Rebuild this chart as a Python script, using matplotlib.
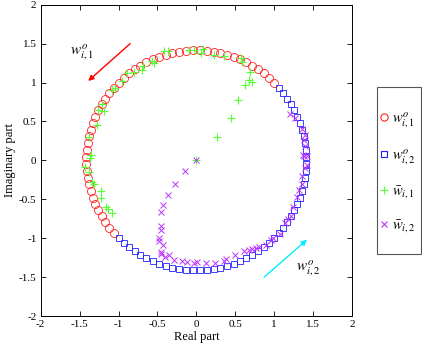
import numpy as np
import matplotlib
matplotlib.use('Agg')
import matplotlib.pyplot as plt
from matplotlib.patches import Rectangle

plt.rcParams['font.family'] = 'Liberation Serif'
plt.rcParams['mathtext.fontset'] = 'stix'

# phases (deg) of the true weights, radius sqrt(2)
R_TRUE = 1.414
phase_w1 = [45.0, 48.6, 52.2, 55.8, 59.4, 63.0, 66.6, 70.2, 73.8, 77.4,
            81.0, 84.6, 88.2, 91.8, 95.4, 99.0, 102.6, 106.2, 109.8, 113.4,
            117.0, 120.6, 124.2, 127.8, 131.4, 135.0, 138.6, 142.2, 145.8, 149.4,
            153.0, 156.6, 160.2, 163.8, 167.4, 171.0, 174.6, 178.2, 181.8, 185.4,
            189.0, 192.6, 196.2, 199.8, 203.4, 207.0, 210.6, 214.2, 217.8, 221.4]
phase_w2 = [225.0, 228.6, 232.2, 235.8, 239.4, 243.0, 246.6, 250.2, 253.8, 257.4,
            261.0, 264.6, 268.2, 271.8, 275.4, 279.0, 282.6, 286.2, 289.8, 293.4,
            297.0, 300.6, 304.2, 307.8, 311.4, 315.0, 318.6, 322.2, 325.8, 329.4,
            333.0, 336.6, 340.2, 343.8, 347.4, 351.0, 354.6, 358.2, 1.8, 5.4,
            9.0, 12.6, 16.2, 19.8, 23.4, 27.0, 30.6, 34.2, 37.8, 41.4]

# estimated weights
est1_re = [0.00, 0.27, 0.45, 0.535, 0.62, 0.67, 0.72, 0.69, 0.59, 0.57,
           0.36, 0.22, 0.08, 0.06, -0.03, -0.10, -0.41, -0.36, -0.54, -0.57,
           -0.68, -0.70, -0.89, -1.04, -1.08, -1.21, -1.19, -1.26, -1.28, -1.38,
           -1.36, -1.37, -1.43, -1.38, -1.34, -1.32, -1.22, -1.22, -1.16, -1.13,
           -1.08, -0.80, -0.96]
est1_im = [0.00, 0.30, 0.55, 0.78, 0.97, 1.03, 1.01, 1.13, 1.27, 1.31,
           1.34, 1.35, 1.43, 1.38, 1.42, 1.42, 1.40, 1.40, 1.25, 1.28,
           1.21, 1.16, 1.12, 0.93, 0.90, 0.73, 0.63, 0.65, 0.45, 0.30,
           0.07, 0.03, -0.08, -0.15, -0.28, -0.31, -0.40, -0.49, -0.60, -0.63,
           -0.68, 1.14, 1.02]

est2_re = [0.00, -0.14, -0.27, -0.37, -0.43, -0.46, -0.45, -0.46, -0.48, -0.48,
           -0.43, -0.46, -0.45, -0.40, -0.35, -0.29, -0.19, -0.12, -0.03, 0.01,
           0.12, 0.24, 0.35, 0.38, 0.49, 0.61, 0.67, 0.72, 0.77, 0.80,
           0.90, 0.96, 0.98, 1.08, 1.14, 1.18, 1.21, 1.24, 1.29, 1.32,
           1.35, 1.36, 1.40, 1.42, 1.38, 1.42, 1.37, 1.40, 1.38, 1.39,
           1.35, 1.26, 1.20]
est2_im = [0.00, -0.14, -0.30, -0.45, -0.57, -0.67, -0.84, -0.90, -1.00, -1.04,
           -1.09, -1.18, -1.20, -1.24, -1.22, -1.28, -1.29, -1.30, -1.32, -1.30,
           -1.32, -1.32, -1.29, -1.27, -1.22, -1.17, -1.15, -1.14, -1.12, -1.11,
           -1.09, -1.02, -1.00, -0.94, -0.81, -0.75, -0.72, -0.60, -0.47, -0.38,
           -0.31, -0.20, -0.10, -0.06, 0.05, 0.05, 0.07, 0.18, 0.26, 0.33,
           0.40, 0.55, 0.60]

ticks = [-2, -1.5, -1, -0.5, 0, 0.5, 1, 1.5, 2]
tick_labels = ['-2', '-1.5', '-1', '-0.5', '0', '0.5', '1', '1.5', '2']

p1 = np.deg2rad(phase_w1)
p2 = np.deg2rad(phase_w2)

fig = plt.figure(figsize=(4.22, 3.46), dpi=100)
ax = fig.add_axes([0.0964, 0.0867, 0.738, 0.8997])

h1, = ax.plot(R_TRUE * np.cos(p1), R_TRUE * np.sin(p1), 'o', ls='none',
              mfc='none', mec='#ff2020', ms=5.8, mew=0.6, label=r'$w^o_{i,1}$')
h2, = ax.plot(R_TRUE * np.cos(p2), R_TRUE * np.sin(p2), 's', ls='none',
              mfc='none', mec='#2020ff', ms=5.0, mew=0.6, label=r'$w^o_{i,2}$')
h3, = ax.plot(est1_re, est1_im, '+', ls='none', color='#55ff33', ms=6,
              mew=0.8, label=r'$\bar{w}_{i,1}$')
h4, = ax.plot(est2_re, est2_im, 'x', ls='none', color='#bb33ff', ms=4.2,
              mew=0.7, label=r'$\bar{w}_{i,2}$')

# direction arrows
ax.annotate('', xy=(-1.39, 1.02), xytext=(-0.85, 1.50),
            arrowprops=dict(arrowstyle='-|>', color='#ff0000', lw=1.0,
                            mutation_scale=8, shrinkA=0, shrinkB=0))
ax.annotate('', xy=(1.42, -1.02), xytext=(0.87, -1.50),
            arrowprops=dict(arrowstyle='-|>', color='#00eeff', lw=1.0,
                            mutation_scale=8, shrinkA=0, shrinkB=0))
ax.text(-1.47, 1.39, r'$w^o_{i,1}$', fontsize=11, ha='center', va='center')
ax.text(1.43, -1.38, r'$w^o_{i,2}$', fontsize=11, ha='center', va='center')

ax.set_xlim(-2, 2)
ax.set_ylim(-2, 2)
ax.set_xticks(ticks)
ax.set_xticklabels(tick_labels)
ax.set_yticks(ticks)
ax.set_yticklabels(tick_labels)
ax.tick_params(direction='in', top=True, right=True, length=3.5, width=0.6,
               labelsize=8, pad=3)
for s in ax.spines.values():
    s.set_linewidth(0.7)
ax.set_xlabel('Real part', fontsize=9, labelpad=1)
ax.set_ylabel('Imaginary part', fontsize=9, labelpad=2)

# legend box drawn separately (tall, narrow, MATLAB-like)
fig.patches.append(Rectangle((0.8934, 0.2659), 0.1043, 0.4827,
                             transform=fig.transFigure, fill=False,
                             edgecolor='#555555', lw=0.8))
leg = fig.legend(handles=[h1, h2, h3, h4], loc='center left',
                 bbox_to_anchor=(0.9, 0.5014), fontsize=10.5, frameon=False,
                 labelspacing=1.2, handlelength=0.6, handletextpad=0.25,
                 borderpad=0, borderaxespad=0, markerscale=0.9)
for lh in leg.legend_handles:
    lh.set_markeredgewidth(0.8)

fig.savefig('out.png', dpi=100)
